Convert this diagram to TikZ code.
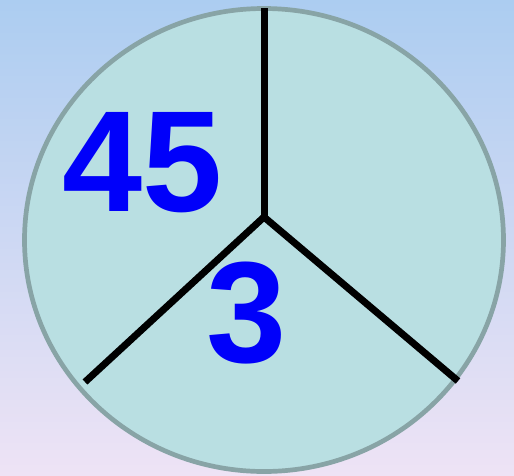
\documentclass[tikz,border=0pt]{standalone}
\usepackage{fontspec}
\setmainfont{Liberation Sans}
\usetikzlibrary{positioning}

\definecolor{bgtop}{RGB}{172,205,241}
\definecolor{bgbottom}{RGB}{238,227,245}
\definecolor{piefill}{RGB}{185,223,226}
\definecolor{pieedge}{RGB}{136,164,166}
\definecolor{numblue}{RGB}{0,0,250}

\begin{document}
\begin{tikzpicture}[x=1pt, y=-1pt]
    % Define styles
    \tikzstyle{pie} = [draw=pieedge, fill=piefill, line width=4.7pt]
    \tikzstyle{cut} = [draw=black, line width=7pt]
    \tikzstyle{number} = [text=numblue, font=\fontsize{144}{144}\bfseries\selectfont, inner sep=0pt]

    % Background
    \shade [top color=bgtop, bottom color=bgbottom] (0,0) rectangle (514,475);
    \useasboundingbox (0,0) rectangle (514,475);

    % Circle
    \draw [pie] (264,240) ellipse [x radius=239.5pt, y radius=231.5pt];

    % Points
    \coordinate (centre) at (264,217);
    \coordinate (top) at (264,8);
    \coordinate (left) at (85,382);
    \coordinate (right) at (458,381);

    % Lines
    \draw [cut] (top) -- (centre);
    \draw [cut] (centre) -- (left);
    \draw [cut] (centre) -- (right);

    % Nodes
    \node [number] (fortyfive) at (143,162.5) {45};
    \node [number] (three) at (247,313) {3};
\end{tikzpicture}
\end{document}
